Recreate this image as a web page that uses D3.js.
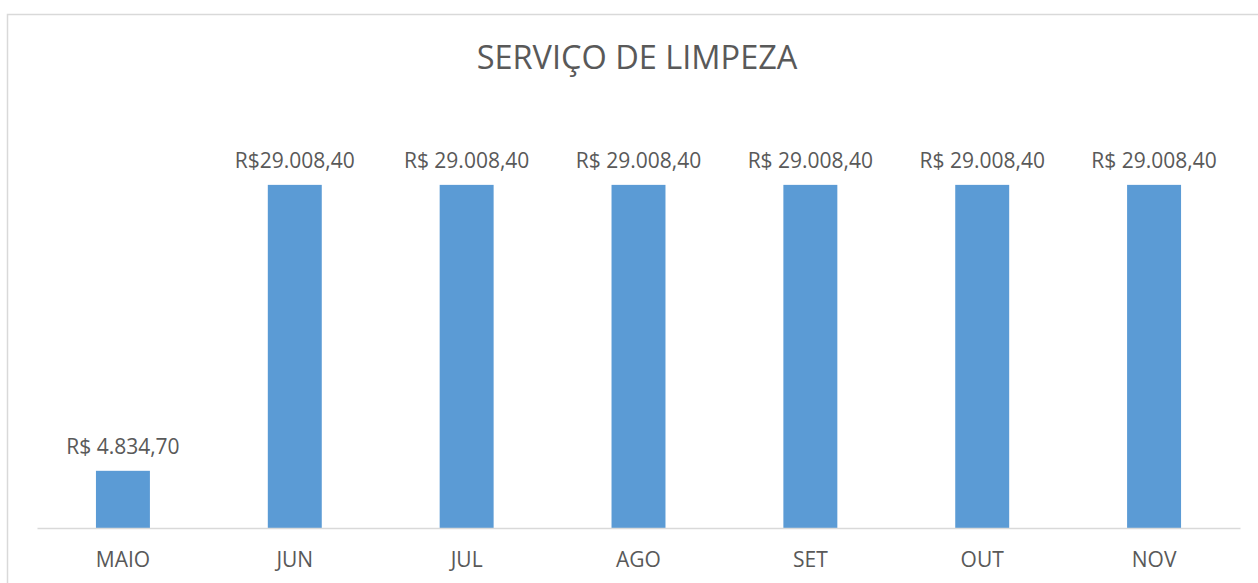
<!DOCTYPE html>
<html>
<head>
<meta charset="utf-8">
<script src="https://cdn.jsdelivr.net/npm/d3@7"></script>
<style>
  body { margin: 0; background: #fff; }
  text { font-family: "Open Sans", sans-serif; fill: #595959; }
</style>
</head>
<body>
<svg id="chart"></svg>
<script>
const months = ["MAIO", "JUN", "JUL", "AGO", "SET", "OUT", "NOV"];
const values = [4834.70, 29008.40, 29008.40, 29008.40, 29008.40, 29008.40, 29008.40];
const valueLabels = ["R$ 4.834,70", "R$29.008,40", "R$ 29.008,40", "R$ 29.008,40", "R$ 29.008,40", "R$ 29.008,40", "R$ 29.008,40"];
const title = "SERVIÇO DE LIMPEZA";

const width = 1258, height = 583;
const margin = { top: 114, right: 18, bottom: 55, left: 37 };

const svg = d3.select("#chart").attr("width", width).attr("height", height);

// chart frame (runs off the right and bottom edges)
svg.append("rect")
    .attr("x", 7.5).attr("y", 14.5)
    .attr("width", width).attr("height", height)
    .attr("fill", "none")
    .attr("stroke", "#d9d9d9")
    .attr("stroke-width", 1.5);

svg.append("text")
    .attr("x", 637).attr("y", 69)
    .attr("text-anchor", "middle")
    .style("font-size", "32.5px")
    .text(title);

const x = d3.scaleBand()
    .domain(months)
    .range([margin.left, width - margin.right])
    .paddingInner(0.686)
    .paddingOuter(0.343);

const y = d3.scaleLinear()
    .domain([0, 35000])
    .range([height - margin.bottom, margin.top]);

const g = svg.append("g");

g.selectAll("rect.bar")
    .data(values)
    .enter()
    .append("rect")
    .attr("class", "bar")
    .attr("x", (d, i) => x(months[i]))
    .attr("y", d => y(d))
    .attr("width", x.bandwidth())
    .attr("height", d => y(0) - y(d))
    .attr("fill", "#5b9bd5");

g.selectAll("text.val")
    .data(values)
    .enter()
    .append("text")
    .attr("class", "val")
    .attr("x", (d, i) => x(months[i]) + x.bandwidth() / 2)
    .attr("y", d => y(d) - 17)
    .attr("text-anchor", "middle")
    .style("font-size", "21px")
    .text((d, i) => valueLabels[i]);

const xAxis = svg.append("g")
    .attr("transform", `translate(0, ${y(0)})`)
    .call(d3.axisBottom(x).tickSize(0).tickPadding(24));

xAxis.select(".domain").attr("stroke", "#d9d9d9").attr("stroke-width", 1.5);
xAxis.selectAll("text")
    .style("font-size", "21px")
    .attr("fill", "#595959");
</script>
</body>
</html>
